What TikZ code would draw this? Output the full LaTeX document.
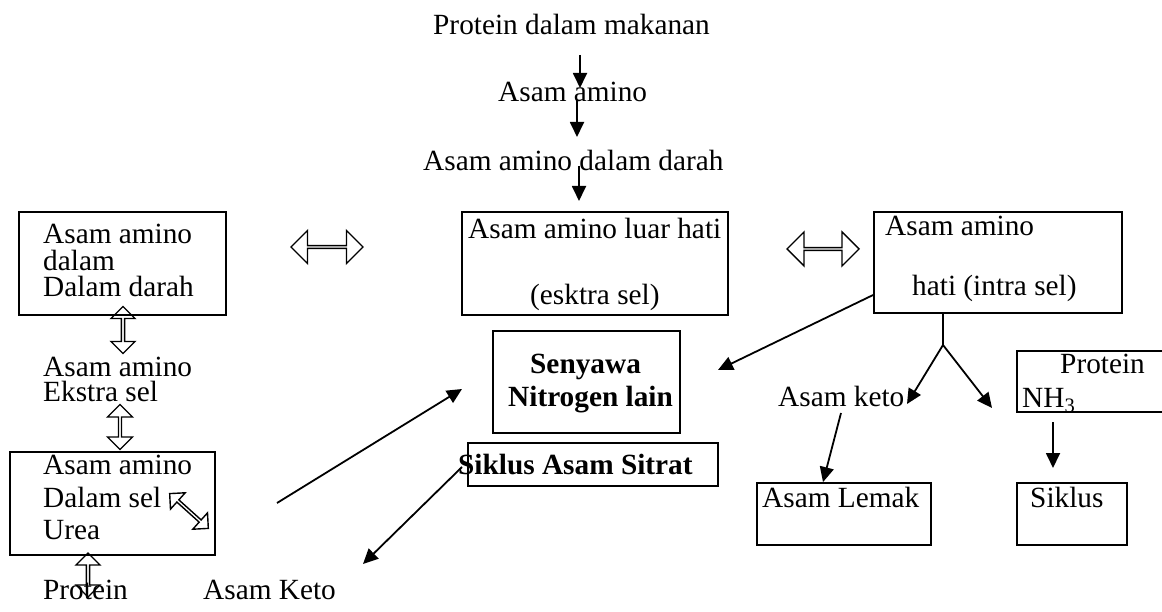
\documentclass[tikz,border=0pt]{standalone}
\usepackage{fontspec}
\setmainfont{Liberation Serif}
\usetikzlibrary{arrows.meta,shapes.arrows}
\tikzset{
  txt/.style={anchor=base west, inner sep=0pt, font=\fontsize{29.3}{35}\selectfont},
  btxt/.style={anchor=base west, inner sep=0pt, font=\fontsize{29.3}{35}\selectfont\bfseries},
  box/.style={draw, line width=1.8pt, inner sep=0pt},
  arr/.style={line width=1.8pt, -{Triangle[length=15pt,width=14pt]}},
  plainline/.style={line width=1.8pt},
  dbl/.style={draw, double arrow, line width=1.4pt, inner sep=0pt, double arrow tip angle=90},
}
\begin{document}
\begin{tikzpicture}[x=1pt,y=-1pt]
\useasboundingbox (0,0) rectangle (1162,612);

% boxes
\node[box, minimum width=207pt, minimum height=103pt] (b1) at (122.5,263.5) {};
\node[box, minimum width=266pt, minimum height=103pt] (b2) at (595,263.5) {};
\node[box, minimum width=248pt, minimum height=101pt] (b3) at (998,262.5) {};
\node[box, minimum width=205pt, minimum height=103pt] (b4) at (112.5,503.5) {};
\node[box, minimum width=187pt, minimum height=102pt] (b5) at (586.5,382) {};
\node[box, minimum width=250pt, minimum height=43pt] (b6) at (593,464.5) {};
\node[box, minimum width=160pt, minimum height=61pt] (b7) at (1097,381.5) {};
\node[box, minimum width=174pt, minimum height=62pt] (b8) at (844,514) {};
\node[box, minimum width=110pt, minimum height=62pt] (b9) at (1072,514) {};

% texts
\node[txt] (t1) at (433,35) {Protein dalam makanan};
\node[txt] (t2) at (498,102) {Asam amino};
\node[txt] (t3) at (423,171) {Asam amino dalam darah};
\node[txt] (m1) at (468,239) {Asam amino luar hati};
\node[txt] (m2) at (530,305) {(esktra sel)};
\node[txt] (r1) at (885,236) {Asam amino};
\node[txt] (r2) at (912,296) {hati (intra sel)};
\node[txt] (l1) at (43,244) {Asam amino};
\node[txt] (l2) at (43,271) {dalam};
\node[txt] (l3) at (43,297) {Dalam darah};
\node[txt] (e1) at (43,376) {Asam amino};
\node[txt] (e2) at (43,401) {Ekstra sel};
\node[txt] (d1) at (43,474) {Asam amino};
\node[txt] (d2) at (43,507) {Dalam sel};
\node[txt] (d3) at (43,539) {Urea};
\node[txt] (pr) at (43,599) {Protein};
\node[txt] (ak) at (203,599) {Asam Keto};
\node[btxt] (s1) at (530,373) {Senyawa};
\node[btxt] (s2) at (508,406) {Nitrogen lain};
\node[btxt] (sas) at (458,474) {Siklus Asam Sitrat};
\node[txt] (kt) at (778,406) {Asam keto};
\node[txt] (p2) at (1060,373) {Protein};
\node[txt] (nh) at (1022,407) {NH\textsubscript{3}};
\node[txt] (al) at (762,507) {Asam Lemak};
\node[txt] (sk) at (1030,507) {Siklus};

% hollow double arrows
\node[dbl, minimum height=72pt, minimum width=33pt, double arrow head extend=8pt] (h1) at (327,247) {};
\node[dbl, minimum height=72pt, minimum width=34pt, double arrow head extend=8pt] (h2) at (823,249) {};
\node[dbl, rotate=90, minimum height=47pt, minimum width=24pt, double arrow head extend=4.5pt] (v1) at (123,330) {};
\node[dbl, rotate=90, minimum height=45pt, minimum width=25pt, double arrow head extend=5pt] (v2) at (120,427) {};
\node[dbl, rotate=90, minimum height=44pt, minimum width=24pt, double arrow head extend=4.5pt] (v3) at (88,575) {};
\node[dbl, rotate=-42, minimum height=52pt, minimum width=22pt, double arrow head extend=4.5pt] (v4) at (189,511) {};

% named free ends
\coordinate (c1a) at (580,55);  \coordinate (c1b) at (580,88);
\coordinate (c2a) at (577,100); \coordinate (c2b) at (577,137);
\coordinate (c3a) at (579,166); \coordinate (c3b) at (579,201);
\coordinate (c4b) at (718,370);
\coordinate (br)  at (943,345);
\coordinate (c5b) at (907,404);
\coordinate (c6b) at (992,408);
\coordinate (c7a) at (841,413);
\coordinate (c8a) at (1053,422); \coordinate (c8b) at (1053,468);
\coordinate (c9a) at (277,503); \coordinate (c9b) at (462,389);
\coordinate (c10a) at (462,467); \coordinate (c10b) at (363,564);

% connectors
\draw[arr] (c1a) -- (c1b);
\draw[arr] (c2a) -- (c2b);
\draw[arr] (c3a) -- (c3b);
\draw[arr] ([yshift=-32.5pt]b3.west) -- (c4b);
\draw[plainline] ([xshift=-55pt]b3.south) -- (br);
\draw[arr] (br) -- (c5b);
\draw[arr] (br) -- (c6b);
\draw[arr] (c7a) -- ([xshift=-21pt]b8.north);
\draw[arr] (c8a) -- (c8b);
\draw[arr] (c9a) -- (c9b);
\draw[arr] (c10a) -- (c10b);
\end{tikzpicture}
\end{document}
